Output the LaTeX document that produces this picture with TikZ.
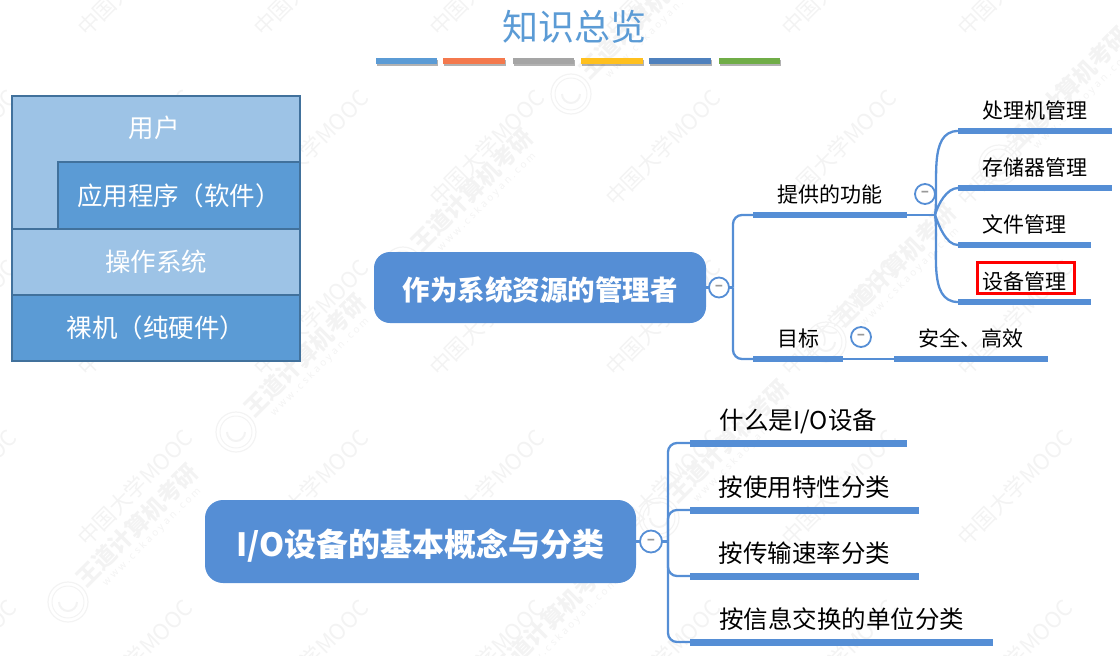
\documentclass[tikz,border=0pt]{standalone}
\usepackage{fontspec}
\setmainfont{Noto Sans CJK SC}
\newfontfamily\wwwfont[LetterSpace=28]{Noto Sans}
\usetikzlibrary{positioning, shadows}

\definecolor{skyblue}{HTML}{5B9BD5}
\definecolor{paleblue}{HTML}{9DC3E6}
\definecolor{edgeblue}{HTML}{41719C}
\definecolor{mapblue}{HTML}{558ED5}
\definecolor{markgray}{HTML}{F3F3F3}
\definecolor{barorange}{HTML}{F4794D}
\definecolor{bargray}{HTML}{A5A5A5}
\definecolor{baryellow}{HTML}{FFC01E}
\definecolor{barblue}{HTML}{4F81BD}
\definecolor{bargreen}{HTML}{70AD47}

\begin{document}
\begin{tikzpicture}[
    x=1pt, y=-1pt,
    inner sep=0pt, outer sep=0pt,
    titlebar/.style={minimum height=6pt, drop shadow={shadow xshift=1pt, shadow yshift=-2pt, fill=black, opacity=.3}},
    layerbox/.style={draw=edgeblue, line width=1.1pt, text=white, font=\fontsize{25.5}{28}\selectfont},
    hubnode/.style={fill=mapblue, rounded corners=16pt, text=white, font=\bfseries},
    foldmark/.style={circle, draw=mapblue, fill=white, line width=1.8pt, minimum size=20pt, text=gray!80, font=\bfseries\fontsize{15}{16}\selectfont},
    topicbar/.style={fill=mapblue, minimum height=6pt, anchor=west},
    topiclabel/.style={text height=.8em, text depth=.2em, font=\fontsize{21}{24}\selectfont},
    biglabel/.style={text height=.8em, text depth=.2em, font=\fontsize{24.5}{28}\selectfont},
    link/.style={draw=mapblue, line width=2.3pt},
    corner/.style={link, rounded corners=9pt},
    marktext/.style={rotate=45, text=markgray}
]

\useasboundingbox (0,0) rectangle (1120,656);

\foreach \wx in {-41,135,311,487,663,839,1015}
    \foreach \wy in {-22,148,318,488,658}
        \node[marktext, font=\fontsize{22}{24}\selectfont] (mark\wx\wy) at (\wx,\wy) {中国大学MOOC};

\foreach \wx/\wy [count=\i] in {137/525,305/355,472/190,640/17,1068/88,895/265,728/441,553/617}{
    \node[marktext, font=\bfseries\fontsize{23}{25}\selectfont] (brand\i) at (\wx,\wy) {王道计算机考研};
    \node[marktext, font=\wwwfont\fontsize{10}{12}\selectfont] (site\i) at (\wx+15,\wy+12) {www.cskaoyan.com};
    \node[circle, draw=markgray, line width=1.2pt, minimum size=40pt] (logo\i) at (\wx-69,\wy+77) {};
    \node[circle, draw=markgray, line width=1pt, minimum size=32pt] (ring\i) at (logo\i) {};
    \draw[markgray, line width=2pt] (logo\i.center) ++(-9,0) arc[start angle=180, end angle=360, radius=9pt];
}

\node[text=skyblue, font=\fontsize{36}{40}\selectfont] (title) at (574.5,27) {知识总览};

\foreach \bx/\bw/\bc [count=\i] in {376/61/skyblue, 443/62/barorange, 513/61/bargray, 581/62/baryellow, 649/62/barblue, 719/61/bargreen}
    \node[titlebar, fill=\bc, minimum width=\bw pt, anchor=west] (bar\i) at (\bx,61) {};

\node[layerbox, fill=paleblue, minimum width=288pt, minimum height=133pt] (user) at (156,162.5) {};
\node[text=white, font=\fontsize{25.5}{28}\selectfont] (userlabel) at (154,128) {用户};
\node[layerbox, fill=skyblue, minimum width=242pt, minimum height=67pt, anchor=south east] (app) at (user.south east) {应用程序（软件）};
\node[layerbox, fill=paleblue, minimum width=288pt, minimum height=66pt] (os) [below=0pt of user] {操作系统};
\node[layerbox, fill=skyblue, minimum width=288pt, minimum height=66pt] (metal) [below=0pt of os] {裸机（纯硬件）};

\node[hubnode, minimum width=332pt, minimum height=71pt, text height=28pt, text depth=3pt, font=\bfseries\fontsize{27.5}{32}\selectfont] (resource) at (540,287.5) {作为系统资源的管理者};
\node[foldmark] (foldres) [right=3pt of resource] {–};
\coordinate (trunkres) at (733,287.5);

\node[topicbar, minimum width=154pt] (offer) at (753,215) {};
\node[topicbar, minimum width=90pt] (goal) at (753,359) {};
\node[topicbar, minimum width=154pt] (safe) at (894,359) {};
\node[topiclabel] (offerlabel) [above=7.5pt of offer] {提供的功能};
\node[topiclabel] (goallabel) [above=7.5pt of goal] {目标};
\node[topiclabel] (safelabel) [above=7.5pt of safe] {安全、高效};
\node[foldmark] (foldoffer) at (925,194) {–};
\node[foldmark] (foldgoal) at (861,337) {–};
\coordinate (fork) at (935,215);

\node[topicbar, minimum width=154pt] (cpu) at (958,131) {};
\node[topicbar, minimum width=154pt] (mem) [below=57pt of cpu.west, anchor=west] {};
\node[topicbar, minimum width=133pt] (file) [below=57pt of mem.west, anchor=west] {};
\node[topicbar, minimum width=133pt] (dev) [below=57pt of file.west, anchor=west] {};
\node[topiclabel] (cpulabel) [above=7.5pt of cpu] {处理机管理};
\node[topiclabel] (memlabel) [above=7.5pt of mem] {存储器管理};
\node[topiclabel] (filelabel) [above=7.5pt of file] {文件管理};
\node[topiclabel] (devlabel) [above=7.5pt of dev] {设备管理};
\node[draw=red, line width=3pt, minimum width=97pt, minimum height=31pt] (devframe) at (1026,278) {};

\path[link]
    (resource) edge (foldres)
    (foldres) edge (trunkres)
    (offer.east) edge (fork)
    (goal.east) edge (safe.west)
    (fork) edge [out=82, in=180, looseness=.9] (cpu.west)
    (fork) edge [out=75, in=180, looseness=.8] (mem.west)
    (fork) edge [out=-70, in=180, looseness=.8] (file.west)
    (fork) edge [out=-82, in=180, looseness=.9] (dev.west)
    ;
\draw[corner] (offer.west) -| (trunkres);
\draw[corner] (goal.west) -| (trunkres);

\node[hubnode, minimum width=431pt, minimum height=83pt, rounded corners=18pt, text height=32pt, text depth=3pt, font=\bfseries\fontsize{32}{36}\selectfont] (basics) at (420.5,541.5) {I/O设备的基本概念与分类};
\node[foldmark, minimum size=22pt] (foldbasics) [right=4pt of basics] {–};
\coordinate (trunkbasics) at (668,541.5);

\node[topicbar, minimum width=217pt, minimum height=7pt] (what) at (690,443) {};
\node[topicbar, minimum width=229pt, minimum height=7pt] (usage) [below=67pt of what.west, anchor=west] {};
\node[topicbar, minimum width=229pt, minimum height=7pt] (rate) [below=66pt of usage.west, anchor=west] {};
\node[topicbar, minimum width=303pt, minimum height=7pt] (unit) [below=66pt of rate.west, anchor=west] {};
\node[biglabel] (whatlabel) [above=8pt of what] {什么是I/O设备};
\node[biglabel] (usagelabel) [above=8pt of usage] {按使用特性分类};
\node[biglabel] (ratelabel) [above=8pt of rate] {按传输速率分类};
\node[biglabel] (unitlabel) [above=8pt of unit] {按信息交换的单位分类};

\path[link]
    (basics) edge (foldbasics)
    (foldbasics) edge (trunkbasics)
    ;
\draw[corner] (what.west) -| (trunkbasics);
\draw[corner] (usage.west) -| (trunkbasics);
\draw[corner] (rate.west) -| (trunkbasics);
\draw[corner] (unit.west) -| (trunkbasics);

\end{tikzpicture}
\end{document}
